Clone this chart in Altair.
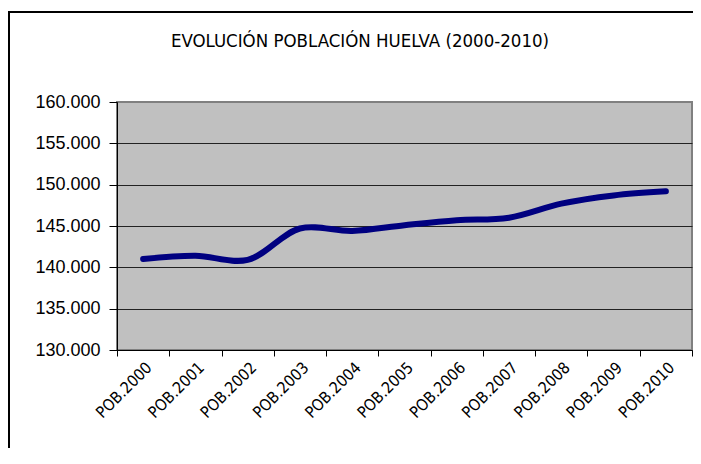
import altair as alt
import pandas as pd

years = ["POB.2000", "POB.2001", "POB.2002", "POB.2003", "POB.2004", "POB.2005",
         "POB.2006", "POB.2007", "POB.2008", "POB.2009", "POB.2010"]
population = [141000, 141400, 140900, 144700, 144400, 145100,
              145700, 146000, 147700, 148700, 149200]
y_ticks = [130000, 135000, 140000, 145000, 150000, 155000, 160000]
title_text = ["EVOLUCIÓN POBLACIÓN HUELVA (2000-2010)"]

df = pd.DataFrame({"year": years, "pop": population})

PLOT_W, PLOT_H = 575, 248
PAD_L, PAD_T = 109, 94
CANVAS_W, CANVAS_H = 685, 440

label_font = "Liberation Sans, Arial, sans-serif"
narrow_font = "Liberation Sans Narrow, Arial Narrow, DejaVu Sans Condensed, sans-serif"

frame = alt.Chart(pd.DataFrame({"k": [0]})).mark_rect(
    fill="white", fillOpacity=0, stroke="black", strokeWidth=2
).encode(
    x=alt.value(-PAD_L + 1), x2=alt.value(CANVAS_W + 20),
    y=alt.value(-PAD_T + 4), y2=alt.value(CANVAS_H + 20),
)

title = alt.Chart(pd.DataFrame({"t": title_text})).mark_text(
    font=narrow_font, fontSize=18.5, color="black", align="center", baseline="alphabetic"
).encode(
    x=alt.value(243), y=alt.value(-55), text="t:N"
)

line = alt.Chart(df).mark_line(
    color="#000080", strokeWidth=6, interpolate="catmull-rom", strokeCap="round"
).encode(
    x=alt.X("year:N", sort=years,
            scale=alt.Scale(type="band", paddingInner=0, paddingOuter=0),
            axis=alt.Axis(title=None, labelAngle=-45, grid=False, tickBand="extent",
                          domainColor="black", domainWidth=1, tickColor="black",
                          tickSize=6, labelFontSize=16, labelFont=narrow_font,
                          labelColor="black", labelPadding=3)),
    y=alt.Y("pop:Q",
            scale=alt.Scale(domain=[130000, 160000], nice=False, zero=False),
            axis=alt.Axis(title=None, values=y_ticks,
                          labelExpr="replace(format(datum.value, ',.0f'), ',', '.')",
                          grid=True,
                          gridColor={"condition": {"test": "datum.value >= 160000", "value": "#808080"},
                                     "value": "#222222"},
                          gridWidth=1, domainColor="black", domainWidth=1,
                          tickColor="black", tickSize=8, labelFontSize=18,
                          labelFont=label_font, labelColor="black", labelPadding=9)),
)

chart = alt.layer(frame, title, line).properties(
    width=PLOT_W, height=PLOT_H,
    autosize=alt.AutoSizeParams(type="none"),
    padding={"left": PAD_L, "top": PAD_T,
             "right": CANVAS_W - PAD_L - PLOT_W, "bottom": CANVAS_H - PAD_T - PLOT_H},
    background="white",
).configure_view(
    fill="#c0c0c0", stroke="#808080", strokeWidth=2
)

chart.save("out.html", embed_options={"renderer": "svg", "actions": False})
